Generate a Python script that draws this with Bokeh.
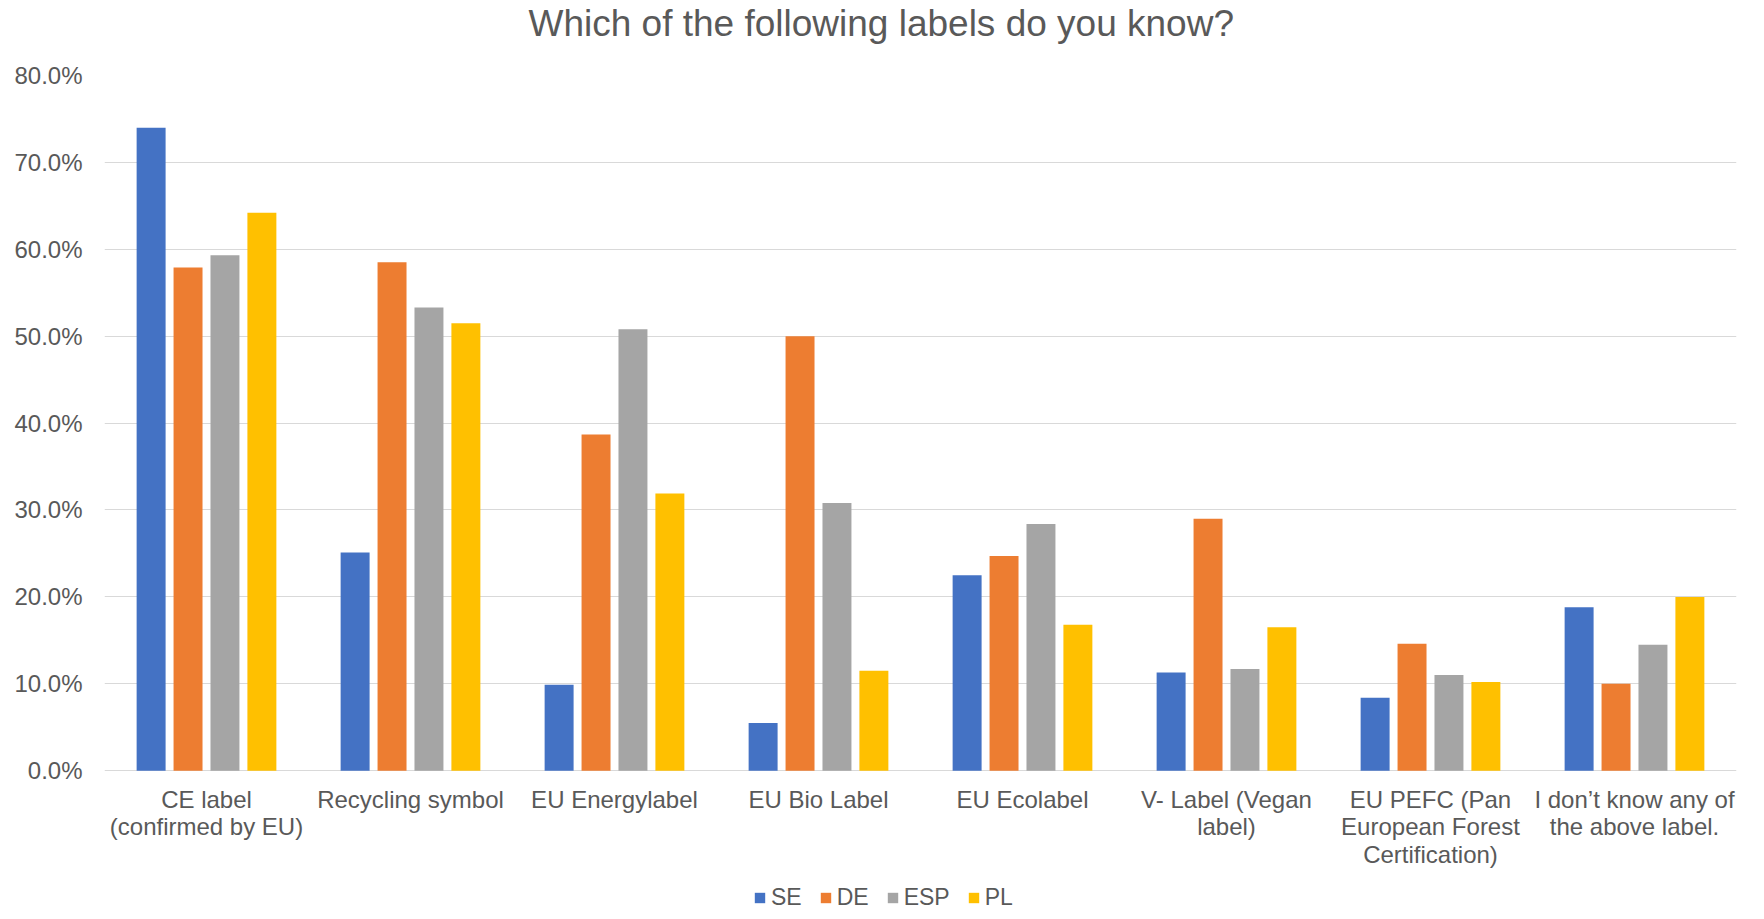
from bokeh.plotting import figure
from bokeh.models import (ColumnDataSource, FactorRange, Range1d, FixedTicker,
                          NumeralTickFormatter, Legend, LegendItem, Title)
from bokeh.core.properties import value
from bokeh.transform import dodge
from bokeh.embed import file_html
from bokeh.resources import INLINE

categories = [
    "CE label\n(confirmed by EU)",
    "Recycling symbol",
    "EU Energylabel",
    "EU Bio Label",
    "EU Ecolabel",
    "V- Label (Vegan\nlabel)",
    "EU PEFC (Pan\nEuropean Forest\nCertification)",
    "I don\u2019t know any of\nthe above label.",
]
series_names = ["SE", "DE", "ESP", "PL"]
SE = [74.0, 25.1, 9.9, 5.5, 22.5, 11.3, 8.4, 18.8]
DE = [57.9, 58.5, 38.7, 50.0, 24.7, 29.0, 14.6, 10.0]
ESP = [59.3, 53.3, 50.8, 30.8, 28.4, 11.7, 11.0, 14.5]
PL = [64.2, 51.5, 31.9, 11.5, 16.8, 16.5, 10.2, 20.0]
colors = ["#4472C4", "#ED7D31", "#A5A5A5", "#FFC000"]
y_ticks = [0.0, 0.1, 0.2, 0.3, 0.4, 0.5, 0.6, 0.7, 0.8]

FONT = "Liberation Sans"
TXT = "#595959"

data = {"cat": categories, "zero": [0.0] * len(categories)}
for name, vals in zip(series_names, [SE, DE, ESP, PL]):
    data[name] = [v / 100.0 for v in vals]
source = ColumnDataSource(data)

# page geometry (pixels): plot frame spans to the bottom so that the
# category labels and legend can be drawn inside it
W, H = 1756, 911
FL, FT, FR, Y0 = 104, 74, 1736, 770
y_top = 0.8
y_bottom = -y_top * (H - Y0) / (Y0 - FT)

p = figure(width=W, height=H, output_backend="svg", toolbar_location=None,
           x_range=FactorRange(*categories), y_range=Range1d(y_bottom, y_top),
           min_border_left=FL, min_border_right=W - FR, min_border_top=FT,
           min_border_bottom=0, outline_line_color=None,
           title="Which of the following labels do you know?")
p.title.text_font = FONT
p.title.text_font_size = "37px"
p.title.text_font_style = "normal"
p.title.text_color = TXT
p.title.align = "left"
p.title.offset = 424
p.title.standoff = 0

spacer = Title(text=" ", text_font_size="10px", standoff=19)
p.add_layout(spacer, "above")

offsets = [-0.2715, -0.0905, 0.0905, 0.2715]
items = []
for name, off, col in zip(series_names, offsets, colors):
    r = p.vbar(x=dodge("cat", off, range=p.x_range), top=name, bottom="zero",
               width=0.142, source=source, fill_color=col, line_color=None)
    items.append(LegendItem(label=name, renderers=[r]))

# category labels under the baseline
p.text(x="cat", y="zero", text="cat", source=source,
       text_font=value(FONT), text_font_size="24px", text_color=TXT,
       text_align="center", text_baseline="top", y_offset=15,
       text_line_height=1.02)

p.xaxis.visible = False
p.xgrid.grid_line_color = None
p.ygrid.grid_line_color = "#D9D9D9"
p.ygrid.grid_line_width = 1
p.ygrid.ticker = FixedTicker(ticks=y_ticks)

p.yaxis.ticker = FixedTicker(ticks=y_ticks)
p.yaxis.formatter = NumeralTickFormatter(format="0.0%")
p.yaxis.axis_line_color = None
p.yaxis.major_tick_line_color = None
p.yaxis.minor_tick_line_color = None
p.yaxis.major_tick_out = 0
p.yaxis.major_label_standoff = 22
p.yaxis.major_label_text_font = FONT
p.yaxis.major_label_text_font_size = "24px"
p.yaxis.major_label_text_color = TXT

legend = Legend(items=items, orientation="horizontal", location=(649, 0),
                glyph_width=13, glyph_height=13, label_standoff=5, spacing=17,
                padding=0, margin=0, border_line_color=None,
                background_fill_alpha=0,
                label_text_font=FONT, label_text_font_size="23px",
                label_text_color=TXT, label_height=16)
p.add_layout(legend, "center")

open("out.html", "w").write(file_html(p, INLINE))
